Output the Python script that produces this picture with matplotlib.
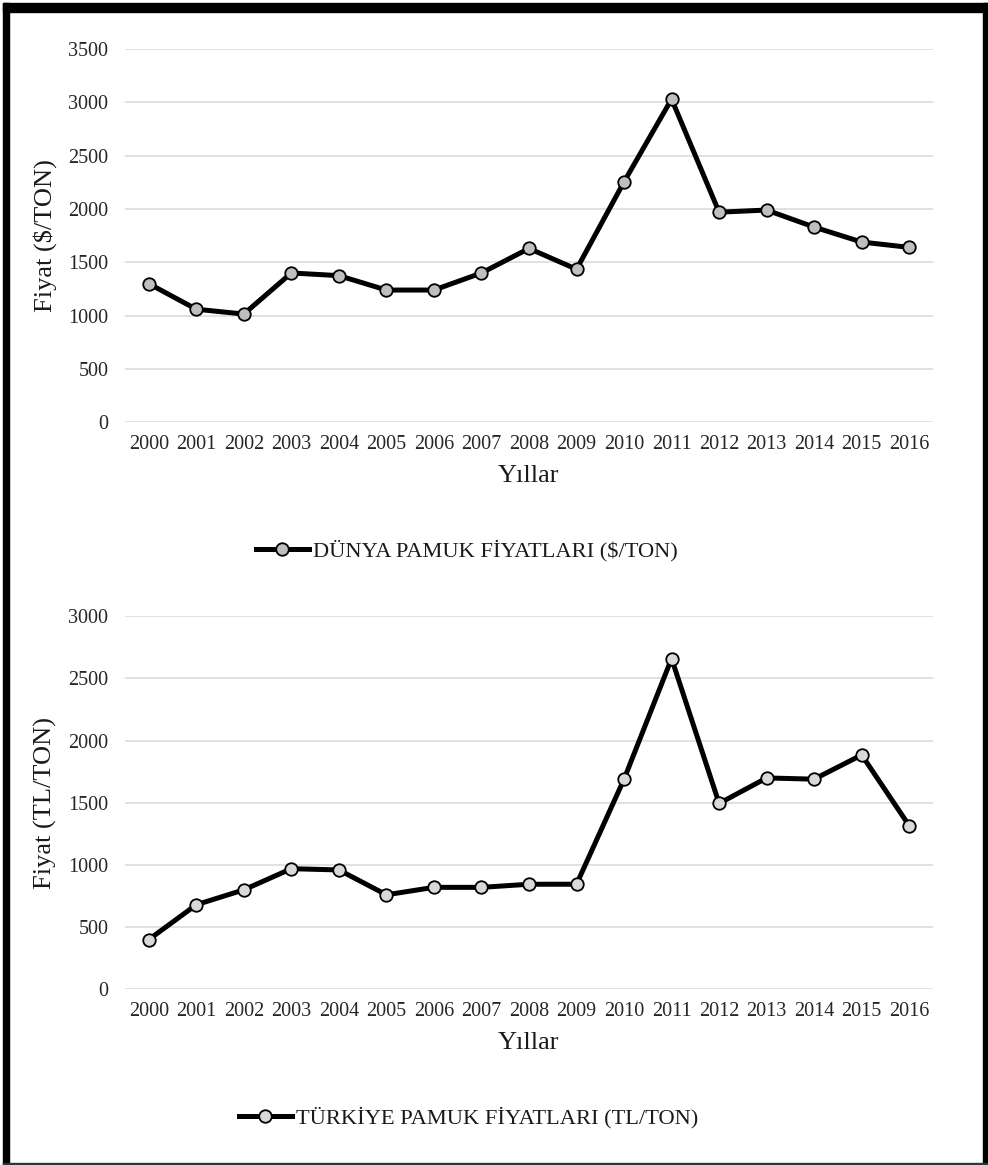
import matplotlib
matplotlib.use("Agg")
import matplotlib.pyplot as plt
from matplotlib.patches import Rectangle
from matplotlib.lines import Line2D

years = [str(y) for y in range(2000, 2017)]
world_prices = [1300, 1060, 1015, 1400, 1375, 1240, 1240, 1400, 1630,
                1435, 2255, 3030, 1970, 1990, 1830, 1690, 1640]
turkey_prices = [400, 680, 800, 970, 960, 760, 820, 820, 845,
                 845, 1690, 2660, 1495, 1700, 1690, 1885, 1315]
world_label = "DÜNYA PAMUK FİYATLARI ($/TON)"
turkey_label = "TÜRKİYE PAMUK FİYATLARI (TL/TON)"

plt.rcParams['font.family'] = ['Liberation Serif', 'DejaVu Serif']

W, H = 988, 1165
fig = plt.figure(figsize=(W / 100, H / 100), dpi=100)

def fx(px):
    return px / W

def fy(py):
    return 1 - py / H

def make_axes(top_px, bottom_px, values, ymax, ylabel, legend_label, legend_y, marker_fc, legend_left):
    ax = fig.add_axes([fx(125), fy(bottom_px), fx(933) - fx(125), fy(top_px) - fy(bottom_px)])
    x = list(range(len(years)))
    ax.plot(x, values, color='black', lw=3.6, marker='o', markersize=9,
            markerfacecolor=marker_fc, markeredgecolor='black', markeredgewidth=1.3,
            solid_joinstyle='round', zorder=3)
    ax.set_xlim(-0.5, len(years) - 0.5)
    ax.set_ylim(0, ymax)
    ax.set_yticks(range(0, ymax + 1, 500))
    ax.set_xticks(x)
    ax.set_xticklabels(years)
    ax.grid(axis='y', color='#dcdcdc', lw=1.2)
    ax.set_axisbelow(True)
    for s in ax.spines.values():
        s.set_visible(False)
    ax.tick_params(axis='both', length=0, labelsize=14.5, colors='#262626')
    ax.tick_params(axis='y', pad=12)
    ax.tick_params(axis='x', pad=9)
    ax.set_xlabel("Yıllar", fontsize=19, labelpad=8, color='#1a1a1a')
    ax.set_ylabel(ylabel, fontsize=19, labelpad=8, color='#1a1a1a')
    handle = Line2D([], [], color='black', lw=3.6, marker='o', markersize=9,
                    markerfacecolor=marker_fc, markeredgecolor='black', markeredgewidth=1.3)
    fig.legend([handle], [legend_label], loc='center left',
               bbox_to_anchor=(fx(legend_left), fy(legend_y)), frameon=False,
               fontsize=16.2, handlelength=2.35, handletextpad=0.18, borderpad=0,
               borderaxespad=0, labelcolor='#1a1a1a')
    return ax

make_axes(49, 422.3, world_prices, 3500, "Fiyat ($/TON)", world_label, 551, '#bfbfbf', 256)
make_axes(616.3, 989.3, turkey_prices, 3000, "Fiyat (TL/TON)", turkey_label, 1118, '#d9d9d9', 239)

# outer frame of the screenshot
fig.patches.append(Rectangle((fx(3), fy(1165)), fx(9) - fx(3), fy(3) - fy(1165),
                             transform=fig.transFigure, color='black', zorder=10))
fig.patches.append(Rectangle((fx(3), fy(12)), fx(988) - fx(3), fy(3) - fy(12),
                             transform=fig.transFigure, color='black', zorder=10))
fig.patches.append(Rectangle((fx(983), fy(1165)), fx(988) - fx(983), fy(3) - fy(1165),
                             transform=fig.transFigure, color='black', zorder=10))
fig.patches.append(Rectangle((fx(3), fy(1165)), fx(988) - fx(3), fy(1162.5) - fy(1165),
                             transform=fig.transFigure, color='#333333', zorder=10))

fig.savefig("out.png", dpi=100, facecolor='white')
